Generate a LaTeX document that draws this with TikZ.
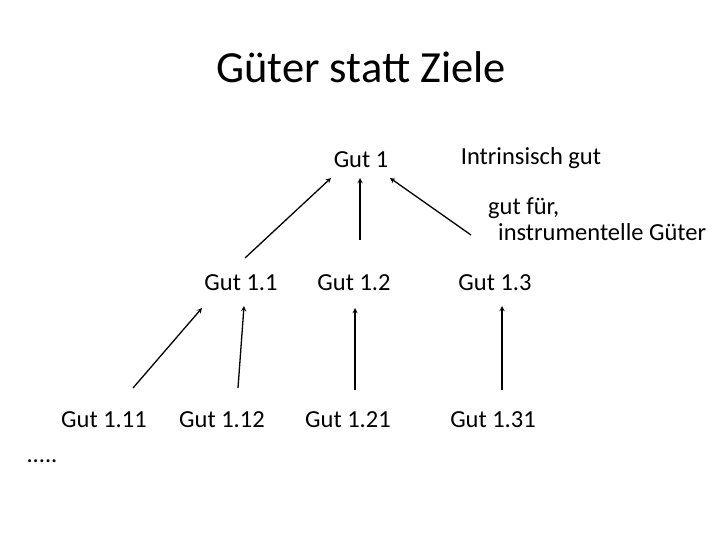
\documentclass[tikz,border=0pt]{standalone}
\usepackage{fontspec}
\setmainfont{Carlito}
\tikzset{gut/.style={font=\fontsize{24.5}{24}\selectfont,inner sep=0pt},
  link/.style={->,>=stealth,line width=1.3pt}}
\begin{document}
\begin{tikzpicture}[x=1pt,y=-1pt]
    \useasboundingbox (0,0) rectangle (720,540);
    \node (title) at (361,67) {\fontsize{44.5}{48}\selectfont Güter statt Ziele};
    \node[gut] (g1) at (361,160) {Gut 1};
    \node[gut] (intr) at (531,158) {Intrinsisch gut};
    \node[gut,anchor=west] (instr1) at (488,208) {gut für,};
    \node[gut,anchor=west] (instr2) at (498,232) {instrumentelle Güter};
    \node[gut] (g11) at (241,283) {Gut 1.1};
    \node[gut] (g12) at (354,283) {Gut 1.2};
    \node[gut] (g13) at (495,283) {Gut 1.3};
    \node[gut] (g111) at (104,420) {Gut 1.11};
    \node[gut] (g112) at (222,420) {Gut 1.12};
    \node[gut] (g121) at (348,420) {Gut 1.21};
    \node[gut] (g131) at (493,420) {Gut 1.31};
    \node[gut] (dots) at (42,461) {.....};
    % ends of the arrows
    \coordinate (t11) at (245,258); \coordinate (h11) at (331,178);
    \coordinate (t12) at (360,240); \coordinate (h12) at (360,178);
    \coordinate (t13) at (471,235); \coordinate (h13) at (390,178);
    \coordinate (t111) at (133,388); \coordinate (h111) at (202,308);
    \coordinate (t112) at (238,388); \coordinate (h112) at (244,306);
    \coordinate (t121) at (355,390); \coordinate (h121) at (355,308);
    \coordinate (t131) at (502,390); \coordinate (h131) at (502,306);
    \foreach \a in {11,12,13,111,112,121,131}
    \draw[link] (t\a) -- (h\a);
\end{tikzpicture}
\end{document}
